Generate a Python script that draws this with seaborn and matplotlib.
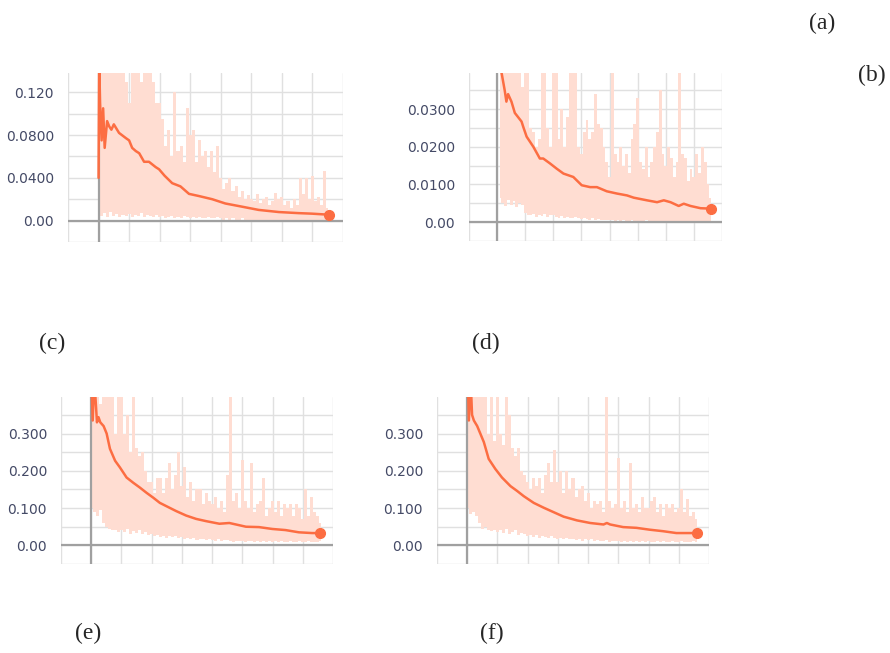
import numpy as np
import matplotlib
matplotlib.use("Agg")
import matplotlib.pyplot as plt
import seaborn as sns

# ---- data (x in step-grid units, y = loss) ----
# panel (a)
a_smooth_x = [0.0, 0.02, 0.05, 0.1, 0.15, 0.2, 0.28, 0.35, 0.42, 0.5, 0.67, 0.9, 1.0, 1.1, 1.22, 1.33,
              1.49, 1.65, 1.87, 1.98, 2.16, 2.41, 2.68, 2.96, 3.28, 3.72, 4.15, 4.7, 5.24, 5.9, 6.54, 6.98, 7.55]
a_smooth_y = [0.04, 0.15, 0.11, 0.075, 0.105, 0.068, 0.093, 0.088, 0.085, 0.09, 0.082, 0.077, 0.075, 0.068,
              0.065, 0.063, 0.055, 0.055, 0.050, 0.048, 0.042, 0.035, 0.032, 0.025, 0.023, 0.020, 0.016,
              0.013, 0.010, 0.008, 0.007, 0.0065, 0.0055]
a_raw_hi = [0.15, 0.15, 0.15, 0.15, 0.15, 0.15, 0.15, 0.15, 0.15, 0.13,
            0.11, 0.15, 0.15, 0.15, 0.13, 0.15, 0.15, 0.14, 0.13, 0.11,
            0.11, 0.095, 0.07, 0.085, 0.06, 0.12, 0.065, 0.07, 0.055, 0.105,
            0.08, 0.085, 0.055, 0.075, 0.06, 0.065, 0.05, 0.065, 0.045, 0.07,
            0.04, 0.03, 0.035, 0.04, 0.028, 0.032, 0.022, 0.028, 0.02, 0.024,
            0.02, 0.018, 0.025, 0.016, 0.02, 0.022, 0.015, 0.018, 0.026, 0.02,
            0.022, 0.015, 0.018, 0.012, 0.02, 0.015, 0.04, 0.025, 0.04, 0.02,
            0.042, 0.018, 0.022, 0.015, 0.046, 0.012]
a_raw_lo = [0.010, 0.004, 0.007, 0.003, 0.008, 0.004, 0.006, 0.003, 0.005, 0.004,
            0.006, 0.003, 0.005, 0.004, 0.007, 0.003, 0.005, 0.004, 0.003, 0.005,
            0.003, 0.004, 0.002, 0.003, 0.004, 0.002, 0.003, 0.002, 0.004, 0.003,
            0.002, 0.003, 0.002, 0.003, 0.002, 0.002, 0.003, 0.002, 0.002, 0.003,
            0.002, 0.001, 0.002, 0.001, 0.002, 0.001, 0.001, 0.002, 0.001, 0.001,
            0.001, 0.001, 0.0, 0.001, 0.001, 0.0, 0.001, 0.001, 0.0, 0.001,
            0.001, 0.0, 0.001, 0.0, 0.001, 0.001, 0.0, 0.001, 0.0, 0.001,
            0.001, 0.0, 0.001, 0.001, 0.0, 0.001]

# panel (b)
b_smooth_x = [0.1, 0.15, 0.27, 0.33, 0.39, 0.51, 0.63, 0.87, 0.93, 1.05, 1.29, 1.52, 1.64, 1.88, 2.12, 2.36,
              2.71, 3.01, 3.31, 3.55, 3.9, 4.26, 4.62, 4.86, 5.33, 5.69, 5.93, 6.17, 6.46, 6.64, 6.88, 7.24, 7.6]
b_smooth_y = [0.045, 0.04, 0.035, 0.032, 0.034, 0.032, 0.029, 0.0267, 0.0253, 0.0227, 0.020, 0.0169, 0.0169,
              0.0156, 0.0142, 0.0129, 0.012, 0.0098, 0.0093, 0.0093, 0.0082, 0.0076, 0.0071, 0.0065, 0.0058,
              0.0053, 0.0058, 0.0053, 0.0043, 0.0049, 0.0043, 0.0037, 0.0036]
b_raw_hi = [0.045, 0.045, 0.045, 0.045, 0.045, 0.045, 0.045, 0.045, 0.036, 0.045,
            0.045, 0.025, 0.024, 0.02, 0.022, 0.045, 0.045, 0.025, 0.02, 0.045,
            0.045, 0.022, 0.03, 0.02, 0.028, 0.045, 0.045, 0.045, 0.02, 0.018,
            0.024, 0.027, 0.022, 0.024, 0.034, 0.026, 0.025, 0.02, 0.016, 0.012,
            0.045, 0.018, 0.016, 0.02, 0.015, 0.018, 0.013, 0.022, 0.026, 0.033,
            0.016, 0.014, 0.02, 0.012, 0.016, 0.02, 0.024, 0.035, 0.018, 0.015,
            0.02, 0.017, 0.012, 0.016, 0.045, 0.018, 0.017, 0.011, 0.014, 0.012,
            0.018, 0.013, 0.02, 0.016, 0.01, 0.0065]
b_raw_lo = [0.0065, 0.005, 0.0042, 0.006, 0.0045, 0.0055, 0.004, 0.005, 0.0045, 0.0025,
            0.002, 0.0018, 0.0022, 0.0015, 0.002, 0.0017, 0.0022, 0.0015, 0.0018, 0.002,
            0.0015, 0.0012, 0.0016, 0.001, 0.0014, 0.001, 0.0012, 0.0015, 0.001, 0.0008,
            0.001, 0.0008, 0.0006, 0.001, 0.0005, 0.0008, 0.0006, 0.0005, 0.0007, 0.0005,
            0.0005, 0.0004, 0.0006, 0.0003, 0.0005, 0.0004, 0.0003, 0.0005, 0.0004, 0.0003,
            0.0004, 0.0003, 0.0005, 0.0003, 0.0004, 0.0002, 0.0004, 0.0003, 0.0002, 0.0004,
            0.0003, 0.0002, 0.0004, 0.0003, 0.0002, 0.0003, 0.0004, 0.0002, 0.0003, 0.0002,
            0.0003, 0.0002, 0.0004, 0.0003, 0.0002, 0.0003]

# panel (c)
c_smooth_x = [0.0, 0.05, 0.1, 0.19, 0.24, 0.3, 0.41, 0.51, 0.62, 0.79, 0.95, 1.17, 1.39, 1.61, 1.83, 2.05,
              2.27, 2.49, 2.81, 3.14, 3.47, 3.8, 4.24, 4.57, 4.68, 5.12, 5.55, 5.99, 6.43, 6.87, 7.31, 7.58]
c_smooth_y = [0.45, 0.335, 0.45, 0.33, 0.344, 0.33, 0.32, 0.30, 0.259, 0.227, 0.209, 0.182, 0.168, 0.155,
              0.141, 0.128, 0.114, 0.105, 0.092, 0.080, 0.071, 0.065, 0.058, 0.060, 0.058, 0.050, 0.049,
              0.044, 0.041, 0.035, 0.033, 0.033]
c_raw_hi = [0.45, 0.45, 0.45, 0.38, 0.45, 0.42, 0.45, 0.45, 0.30, 0.45,
            0.45, 0.30, 0.35, 0.25, 0.45, 0.26, 0.24, 0.25, 0.20, 0.17,
            0.17, 0.14, 0.18, 0.18, 0.14, 0.18, 0.22, 0.15, 0.19, 0.25,
            0.16, 0.21, 0.13, 0.17, 0.12, 0.15, 0.15, 0.11, 0.14, 0.12,
            0.11, 0.13, 0.10, 0.12, 0.09, 0.19, 0.45, 0.12, 0.14, 0.10,
            0.23, 0.12, 0.10, 0.22, 0.09, 0.11, 0.12, 0.18, 0.08, 0.10,
            0.12, 0.09, 0.12, 0.08, 0.11, 0.10, 0.11, 0.08, 0.11, 0.10,
            0.07, 0.15, 0.08, 0.13, 0.09, 0.08, 0.06]
c_raw_lo = [0.10, 0.09, 0.08, 0.095, 0.06, 0.05, 0.045, 0.04, 0.042, 0.036,
            0.04, 0.035, 0.045, 0.03, 0.038, 0.032, 0.04, 0.03, 0.035, 0.028,
            0.03, 0.025, 0.028, 0.022, 0.026, 0.02, 0.024, 0.022, 0.025, 0.02,
            0.022, 0.018, 0.02, 0.017, 0.019, 0.015, 0.018, 0.016, 0.014, 0.017,
            0.015, 0.013, 0.016, 0.012, 0.014, 0.015, 0.012, 0.01, 0.013, 0.011,
            0.012, 0.01, 0.013, 0.011, 0.009, 0.012, 0.01, 0.011, 0.009, 0.012,
            0.01, 0.011, 0.009, 0.012, 0.01, 0.008, 0.011, 0.01, 0.009, 0.011,
            0.01, 0.008, 0.011, 0.01, 0.009, 0.01, 0.012]

# panel (d)
d_smooth_x = [0.0, 0.02, 0.055, 0.11, 0.16, 0.22, 0.33, 0.55, 0.71, 0.93, 1.15, 1.43, 1.65, 1.87, 2.2, 2.53,
              2.86, 3.19, 3.63, 4.07, 4.51, 4.62, 4.73, 5.16, 5.6, 6.04, 6.48, 6.92, 7.25, 7.6]
d_smooth_y = [0.45, 0.45, 0.335, 0.45, 0.35, 0.335, 0.32, 0.277, 0.232, 0.205, 0.182, 0.159, 0.146, 0.132,
              0.114, 0.101, 0.089, 0.077, 0.067, 0.060, 0.056, 0.060, 0.056, 0.049, 0.047, 0.042, 0.038,
              0.033, 0.033, 0.033]
d_raw_hi = [0.45, 0.45, 0.45, 0.45, 0.40, 0.45, 0.45, 0.30, 0.45, 0.28,
            0.45, 0.30, 0.27, 0.45, 0.35, 0.26, 0.24, 0.26, 0.20, 0.19,
            0.17, 0.15, 0.18, 0.16, 0.18, 0.14, 0.19, 0.22, 0.17, 0.255,
            0.17, 0.20, 0.14, 0.20, 0.15, 0.18, 0.13, 0.15, 0.16, 0.12,
            0.14, 0.10, 0.12, 0.11, 0.12, 0.09, 0.45, 0.12, 0.10, 0.11,
            0.235, 0.10, 0.12, 0.09, 0.22, 0.10, 0.11, 0.09, 0.13, 0.10,
            0.10, 0.12, 0.13, 0.09, 0.11, 0.08, 0.11, 0.10, 0.11, 0.09,
            0.10, 0.15, 0.09, 0.125, 0.08, 0.09, 0.07]
d_raw_lo = [0.10, 0.085, 0.09, 0.08, 0.06, 0.045, 0.05, 0.04, 0.038, 0.042,
            0.036, 0.04, 0.032, 0.045, 0.03, 0.036, 0.04, 0.028, 0.033, 0.03,
            0.026, 0.028, 0.022, 0.027, 0.02, 0.025, 0.022, 0.02, 0.024, 0.021,
            0.018, 0.021, 0.017, 0.019, 0.016, 0.018, 0.015, 0.017, 0.013, 0.016,
            0.014, 0.016, 0.012, 0.015, 0.013, 0.011, 0.014, 0.01, 0.012, 0.013,
            0.011, 0.009, 0.012, 0.01, 0.012, 0.009, 0.011, 0.01, 0.012, 0.009,
            0.011, 0.01, 0.008, 0.011, 0.009, 0.012, 0.01, 0.009, 0.011, 0.01,
            0.009, 0.011, 0.008, 0.01, 0.009, 0.011, 0.01]

# y axis setup per panel: ticks, labelled ticks, labels, limits
a_yticks = [-0.02, 0.0, 0.02, 0.04, 0.06, 0.08, 0.10, 0.12]
a_ylabels = ["", "0.00", "", "0.0400", "", "0.0800", "", "0.120"]
b_yticks = [-0.005, 0.0, 0.005, 0.01, 0.015, 0.02, 0.025, 0.03, 0.035]
b_ylabels = ["", "0.00", "", "0.0100", "", "0.0200", "", "0.0300", ""]
c_yticks = [-0.05, 0.0, 0.05, 0.1, 0.15, 0.2, 0.25, 0.3, 0.35]
c_ylabels = ["", "0.00", "", "0.100", "", "0.200", "", "0.300", ""]

ORANGE = "#fc6d42"
RAW = "#ffddd2"

sns.set_style("white")
plt.rcParams["font.family"] = ["DejaVu Sans"]

fig = plt.figure(figsize=(8.9, 6.53), dpi=100)
W, H = 890, 653


def make_ax(left, top, right, bottom):
    return fig.add_axes([left / W, 1 - bottom / H, (right - left) / W, (bottom - top) / H])


def draw_panel(ax, sx, sy, raw_hi, raw_lo, raw_x0, raw_x1, yticks, ylabels, ylim):
    rx = np.linspace(raw_x0, raw_x1, len(raw_hi))
    # raw (unsmoothed) curve as a light spiky band
    ax.fill_between(rx, raw_lo, raw_hi, step="mid", color=RAW, lw=0, zorder=1)
    ax.axvline(0, color="#a0a0a0", lw=1.6, zorder=2)
    ax.axhline(0, color="#a0a0a0", lw=1.6, zorder=2)
    sns.lineplot(x=sx, y=sy, ax=ax, color=ORANGE, lw=1.8, zorder=3)
    ax.plot(sx[-1], sy[-1], "o", color=ORANGE, ms=7, zorder=4)
    ax.set_xlim(-1, 8)
    ax.set_ylim(*ylim)
    ax.set_xticks(range(-1, 9))
    ax.set_xticklabels([])
    ax.set_yticks(yticks)
    ax.set_yticklabels(ylabels)
    ax.grid(True, color="#e0e0e0", lw=1)
    ax.set_axisbelow(True)
    for s in ax.spines.values():
        s.set_visible(False)
    ax.tick_params(length=4, width=1, color="#d0d0d0", labelsize=10, labelcolor="#444a66", pad=6)
    ax.set_xlabel("")
    ax.set_ylabel("")


ax_a = make_ax(68, 73, 343, 242)
draw_panel(ax_a, a_smooth_x, a_smooth_y, a_raw_hi, a_raw_lo, 0.0, 7.5, a_yticks, a_ylabels, (-0.02, 0.138))

ax_b = make_ax(469, 73, 722, 241)
draw_panel(ax_b, b_smooth_x, b_smooth_y, b_raw_hi, b_raw_lo, 0.1, 7.6, b_yticks, b_ylabels, (-0.005, 0.0396))

ax_c = make_ax(61, 397, 333, 564)
draw_panel(ax_c, c_smooth_x, c_smooth_y, c_raw_hi, c_raw_lo, 0.0, 7.6, c_yticks, c_ylabels, (-0.05, 0.398))

ax_d = make_ax(437, 397, 709, 564)
draw_panel(ax_d, d_smooth_x, d_smooth_y, d_raw_hi, d_raw_lo, 0.0, 7.6, c_yticks, c_ylabels, (-0.05, 0.398))

# panel letters
letters = ["(a)", "(b)", "(c)", "(d)", "(e)", "(f)"]
letter_pos = [(822, 23), (872, 75), (52, 343), (486, 343), (88, 633), (492, 633)]
for txt, (px, py) in zip(letters, letter_pos):
    fig.text(px / W, 1 - py / H, txt, ha="center", va="center", fontsize=17,
             family=["Liberation Serif", "DejaVu Serif"])

fig.savefig("out.png", dpi=100)
